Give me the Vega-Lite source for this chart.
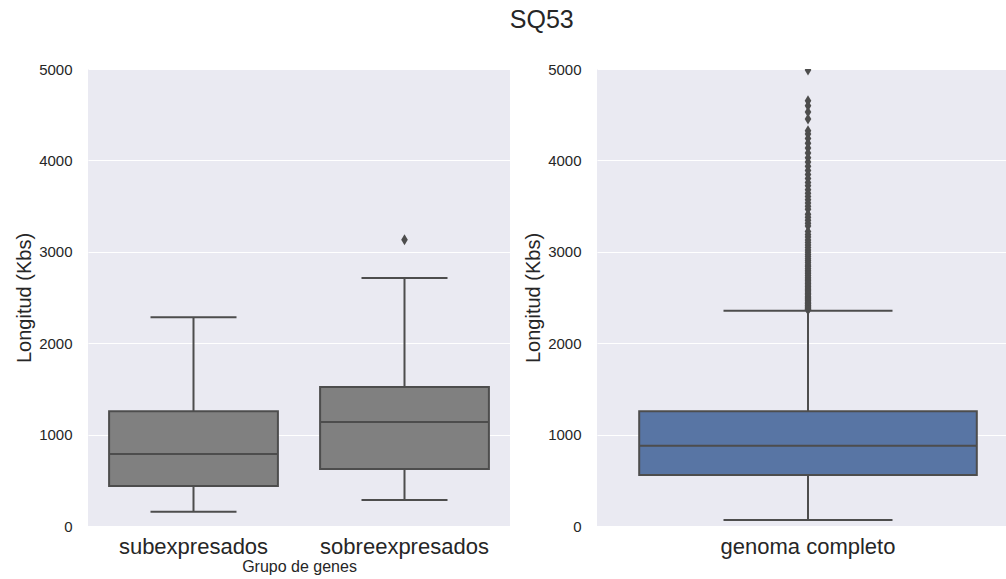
{
  "$schema": "https://vega.github.io/schema/vega-lite/v6.json",
  "padding": {"left": 14, "top": 8, "right": 0, "bottom": 4},
  "spacing": 13,
  "title": {"text": "SQ53", "fontSize": 25, "font": "Liberation Sans", "fontWeight": "normal", "color": "#262626", "anchor": "middle", "dx": 25, "offset": 29},
  "datasets": {
    "leftBox": [
      {"grupo": "subexpresados", "lo": 157, "q1": 438, "med": 788, "q3": 1255, "hi": 2283},
      {"grupo": "sobreexpresados", "lo": 284, "q1": 624, "med": 1138, "q3": 1521, "hi": 2713}
    ],
    "leftOut": [
      {"grupo": "sobreexpresados", "v": 3132}
    ],
    "rightBox": [
      {"grupo": "genoma completo", "lo": 66, "q1": 558, "med": 879, "q3": 1255, "hi": 2356}
    ],
    "rightOut": [
      {"grupo": "genoma completo", "v": 2365}, {"grupo": "genoma completo", "v": 2372}, {"grupo": "genoma completo", "v": 2380},
      {"grupo": "genoma completo", "v": 2391}, {"grupo": "genoma completo", "v": 2398}, {"grupo": "genoma completo", "v": 2410},
      {"grupo": "genoma completo", "v": 2418}, {"grupo": "genoma completo", "v": 2431}, {"grupo": "genoma completo", "v": 2440},
      {"grupo": "genoma completo", "v": 2452}, {"grupo": "genoma completo", "v": 2466}, {"grupo": "genoma completo", "v": 2475},
      {"grupo": "genoma completo", "v": 2489}, {"grupo": "genoma completo", "v": 2502}, {"grupo": "genoma completo", "v": 2515},
      {"grupo": "genoma completo", "v": 2531}, {"grupo": "genoma completo", "v": 2544}, {"grupo": "genoma completo", "v": 2560},
      {"grupo": "genoma completo", "v": 2573}, {"grupo": "genoma completo", "v": 2590}, {"grupo": "genoma completo", "v": 2604},
      {"grupo": "genoma completo", "v": 2621}, {"grupo": "genoma completo", "v": 2637}, {"grupo": "genoma completo", "v": 2652},
      {"grupo": "genoma completo", "v": 2670}, {"grupo": "genoma completo", "v": 2688}, {"grupo": "genoma completo", "v": 2703},
      {"grupo": "genoma completo", "v": 2722}, {"grupo": "genoma completo", "v": 2741}, {"grupo": "genoma completo", "v": 2760},
      {"grupo": "genoma completo", "v": 2778}, {"grupo": "genoma completo", "v": 2799}, {"grupo": "genoma completo", "v": 2817},
      {"grupo": "genoma completo", "v": 2838}, {"grupo": "genoma completo", "v": 2856}, {"grupo": "genoma completo", "v": 2879},
      {"grupo": "genoma completo", "v": 2901}, {"grupo": "genoma completo", "v": 2925}, {"grupo": "genoma completo", "v": 2948},
      {"grupo": "genoma completo", "v": 2970}, {"grupo": "genoma completo", "v": 2996}, {"grupo": "genoma completo", "v": 3021},
      {"grupo": "genoma completo", "v": 3048}, {"grupo": "genoma completo", "v": 3075}, {"grupo": "genoma completo", "v": 3102},
      {"grupo": "genoma completo", "v": 3130}, {"grupo": "genoma completo", "v": 3161}, {"grupo": "genoma completo", "v": 3190},
      {"grupo": "genoma completo", "v": 3222}, {"grupo": "genoma completo", "v": 3281}, {"grupo": "genoma completo", "v": 3312},
      {"grupo": "genoma completo", "v": 3345}, {"grupo": "genoma completo", "v": 3379}, {"grupo": "genoma completo", "v": 3410},
      {"grupo": "genoma completo", "v": 3466}, {"grupo": "genoma completo", "v": 3498}, {"grupo": "genoma completo", "v": 3533},
      {"grupo": "genoma completo", "v": 3570}, {"grupo": "genoma completo", "v": 3604}, {"grupo": "genoma completo", "v": 3641},
      {"grupo": "genoma completo", "v": 3680}, {"grupo": "genoma completo", "v": 3722}, {"grupo": "genoma completo", "v": 3758},
      {"grupo": "genoma completo", "v": 3801}, {"grupo": "genoma completo", "v": 3846}, {"grupo": "genoma completo", "v": 3890},
      {"grupo": "genoma completo", "v": 3935}, {"grupo": "genoma completo", "v": 3982}, {"grupo": "genoma completo", "v": 4030},
      {"grupo": "genoma completo", "v": 4081}, {"grupo": "genoma completo", "v": 4135}, {"grupo": "genoma completo", "v": 4188},
      {"grupo": "genoma completo", "v": 4240}, {"grupo": "genoma completo", "v": 4290}, {"grupo": "genoma completo", "v": 4325},
      {"grupo": "genoma completo", "v": 4453}, {"grupo": "genoma completo", "v": 4530}, {"grupo": "genoma completo", "v": 4598},
      {"grupo": "genoma completo", "v": 4653}, {"grupo": "genoma completo", "v": 4990}
    ]
  },
  "hconcat": [
    {
      "width": 422,
      "height": 457,
      "encoding": {
        "x": {"field": "grupo", "type": "nominal", "sort": null,
              "scale": {"domain": ["subexpresados", "sobreexpresados"], "paddingInner": 0, "paddingOuter": 0},
              "axis": {"title": "Grupo de genes", "labelAngle": 0}}
      },
      "layer": [
        {
          "data": {"name": "leftBox"},
          "mark": {"type": "rule", "color": "#4d4d4d", "strokeWidth": 2},
          "encoding": {
            "y": {"field": "lo", "type": "quantitative", "scale": {"domain": [0, 5000], "nice": false},
                  "axis": {"title": "Longitud (Kbs)", "values": [0, 1000, 2000, 3000, 4000, 5000], "format": "d"}},
            "y2": {"field": "hi"}
          }
        },
        {
          "data": {"name": "leftBox"},
          "mark": {"type": "bar", "width": {"band": 0.8}, "fill": "#808080", "stroke": "#4d4d4d", "strokeWidth": 2},
          "encoding": {
            "y": {"field": "q1", "type": "quantitative"},
            "y2": {"field": "q3"}
          }
        },
        {
          "data": {"name": "leftBox"},
          "mark": {"type": "tick", "size": 169, "thickness": 2, "color": "#4d4d4d", "opacity": 1},
          "encoding": {"y": {"field": "med", "type": "quantitative"}}
        },
        {
          "data": {"name": "leftBox"},
          "mark": {"type": "tick", "size": 86, "thickness": 2, "color": "#4d4d4d", "opacity": 1},
          "encoding": {"y": {"field": "lo", "type": "quantitative"}}
        },
        {
          "data": {"name": "leftBox"},
          "mark": {"type": "tick", "size": 86, "thickness": 2, "color": "#4d4d4d", "opacity": 1},
          "encoding": {"y": {"field": "hi", "type": "quantitative"}}
        },
        {
          "data": {"name": "leftOut"},
          "mark": {"type": "point", "shape": "M0,-1L0.6,0L0,1L-0.6,0Z", "size": 121, "filled": true, "color": "#4d4d4d", "opacity": 1, "clip": true},
          "encoding": {"y": {"field": "v", "type": "quantitative"}}
        }
      ]
    },
    {
      "width": 409,
      "height": 457,
      "encoding": {
        "x": {"field": "grupo", "type": "nominal", "sort": null,
              "scale": {"domain": ["genoma completo"], "paddingInner": 0, "paddingOuter": 0, "range": [0, 422]},
              "axis": {"title": null, "labelAngle": 0}}
      },
      "layer": [
        {
          "data": {"name": "rightBox"},
          "mark": {"type": "rule", "color": "#4d4d4d", "strokeWidth": 2},
          "encoding": {
            "y": {"field": "lo", "type": "quantitative", "scale": {"domain": [0, 5000], "nice": false},
                  "axis": {"title": "Longitud (Kbs)", "values": [0, 1000, 2000, 3000, 4000, 5000], "format": "d"}},
            "y2": {"field": "hi"}
          }
        },
        {
          "data": {"name": "rightBox"},
          "mark": {"type": "bar", "width": {"band": 0.8}, "fill": "#5875A4", "stroke": "#4d4d4d", "strokeWidth": 2},
          "encoding": {
            "y": {"field": "q1", "type": "quantitative"},
            "y2": {"field": "q3"}
          }
        },
        {
          "data": {"name": "rightBox"},
          "mark": {"type": "tick", "size": 338, "thickness": 2, "color": "#4d4d4d", "opacity": 1},
          "encoding": {"y": {"field": "med", "type": "quantitative"}}
        },
        {
          "data": {"name": "rightBox"},
          "mark": {"type": "tick", "size": 169, "thickness": 2, "color": "#4d4d4d", "opacity": 1},
          "encoding": {"y": {"field": "lo", "type": "quantitative"}}
        },
        {
          "data": {"name": "rightBox"},
          "mark": {"type": "tick", "size": 169, "thickness": 2, "color": "#4d4d4d", "opacity": 1},
          "encoding": {"y": {"field": "hi", "type": "quantitative"}}
        },
        {
          "data": {"name": "rightOut"},
          "mark": {"type": "point", "shape": "M0,-1L0.6,0L0,1L-0.6,0Z", "size": 121, "filled": true, "color": "#4d4d4d", "opacity": 1, "clip": true},
          "encoding": {"y": {"field": "v", "type": "quantitative"}}
        }
      ]
    }
  ],
  "config": {
    "view": {"fill": "#EAEAF2", "stroke": null},
    "font": "Liberation Sans",
    "axis": {
      "domain": false, "ticks": false, "tickSize": 0,
      "labelColor": "#262626", "titleColor": "#262626",
      "labelFont": "Liberation Sans", "titleFont": "Liberation Sans", "titleFontWeight": "normal",
      "gridColor": "#FFFFFF", "gridOpacity": 1
    },
    "axisY": {"grid": true, "gridWidth": 1.2, "labelFontSize": 15, "titleFontSize": 20, "labelPadding": 16, "titlePadding": 4},
    "axisX": {"grid": false, "labelFontSize": 22, "labelPadding": 10, "titleFontSize": 16, "titlePadding": 1}
  }
}
